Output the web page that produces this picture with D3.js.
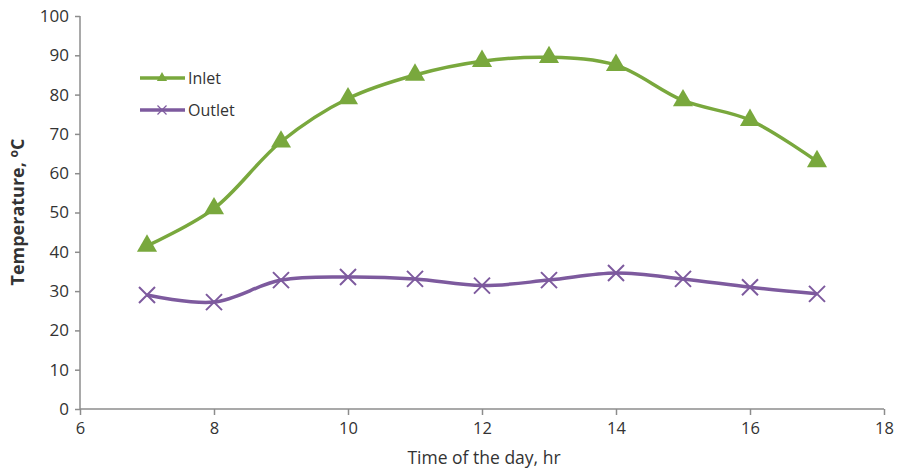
<!DOCTYPE html>
<html>
<head>
<meta charset="utf-8">
<script src="https://cdn.jsdelivr.net/npm/d3@7"></script>
<style>
  body { margin: 0; background: #fff; }
  text { font-family: "Open Sans", "Liberation Sans", sans-serif; fill: #333; }
</style>
</head>
<body>
<script>
const w = 899;
const h = 470;

// data
const hours = [7, 8, 9, 10, 11, 12, 13, 14, 15, 16, 17];
const inlet = [41.5, 51, 68, 79, 85, 88.5, 89.5, 87.5, 78.5, 73.5, 63];
const outlet = [29, 27.2, 32.8, 33.6, 33.1, 31.4, 32.8, 34.6, 33.1, 31, 29.3];
const xTicks = [6, 8, 10, 12, 14, 16, 18];
const yTicks = [0, 10, 20, 30, 40, 50, 60, 70, 80, 90, 100];

const green = "#79a83d";
const purple = "#7d5a9e";
const axisColor = "#8c8c8c";

const svg = d3.select("body").append("svg").attr("width", w).attr("height", h);

const xScale = d3.scaleLinear().domain([6, 18]).range([80, 884]);
const yScale = d3.scaleLinear().domain([0, 100]).range([409, 16]);

// axes
const yAxis = d3.axisLeft(yScale).tickValues(yTicks).tickSize(5).tickPadding(6);
const xAxis = d3.axisBottom(xScale).tickValues(xTicks).tickSize(5).tickPadding(8);

const gy = svg.append("g").attr("transform", "translate(80,0)").call(yAxis);
const gx = svg.append("g").attr("transform", "translate(0,409)").call(xAxis);

[gx, gy].forEach(function (g) {
    g.selectAll("path, line").attr("stroke", axisColor).attr("stroke-width", 1.5);
    g.select(".domain").attr("d", g === gx ? "M80,0H884" : "M0,409V16");
    g.selectAll("text").style("font-size", g === gx ? "16.5px" : "17px").attr("fill", "#333");
});
gx.selectAll(".tick line").attr("y2", 6);

// axis titles
svg.append("text")
    .attr("x", 484)
    .attr("y", 464)
    .attr("text-anchor", "middle")
    .style("font-size", "17.5px")
    .text("Time of the day, hr");

const yTitle = svg.append("text")
    .attr("transform", "translate(24,212) rotate(-90)")
    .attr("text-anchor", "middle")
    .style("font-size", "18px")
    .style("font-weight", "bold");
yTitle.append("tspan").text("Temperature, ");
yTitle.append("tspan").attr("dy", "-6").style("font-size", "12px").text("o");
yTitle.append("tspan").attr("dy", "6").text("C");

// lines
const line = d3.line()
    .x(function (d) { return xScale(d[0]); })
    .y(function (d) { return yScale(d[1]); })
    .curve(d3.curveCatmullRom.alpha(0.5));

const inletData = hours.map(function (d, i) { return [d, inlet[i]]; });
const outletData = hours.map(function (d, i) { return [d, outlet[i]]; });

svg.append("path")
    .datum(inletData)
    .attr("d", line)
    .attr("fill", "none")
    .attr("stroke", green)
    .attr("stroke-width", 3.5);

svg.append("path")
    .datum(outletData)
    .attr("d", line)
    .attr("fill", "none")
    .attr("stroke", purple)
    .attr("stroke-width", 3.5);

// markers
const triangle = d3.symbol().type(d3.symbolTriangle).size(175);

svg.selectAll(".tri")
    .data(inletData)
    .enter()
    .append("path")
    .attr("class", "tri")
    .attr("d", triangle)
    .attr("transform", function (d) {
        return "translate(" + xScale(d[0]) + "," + yScale(d[1]) + ")";
    })
    .attr("fill", green);

function cross(g, s, sw) {
    g.append("path")
        .attr("d", "M" + -s + "," + -s + "L" + s + "," + s + "M" + -s + "," + s + "L" + s + "," + -s)
        .attr("stroke", purple)
        .attr("stroke-width", sw)
        .attr("fill", "none");
}

svg.selectAll(".xm")
    .data(outletData)
    .enter()
    .append("g")
    .attr("class", "xm")
    .attr("transform", function (d) {
        return "translate(" + xScale(d[0]) + "," + yScale(d[1]) + ")";
    })
    .each(function () { cross(d3.select(this), 8, 2); });

// legend
const legend = [["Inlet", green, "tri"], ["Outlet", purple, "x"]];
legend.forEach(function (d, i) {
    const y = 78 + i * 32;
    const g = svg.append("g").attr("transform", "translate(0," + y + ")");
    g.append("line")
        .attr("x1", 140).attr("x2", 185)
        .attr("stroke", d[1]).attr("stroke-width", 3.5);
    if (d[2] === "tri") {
        g.append("path")
            .attr("d", d3.symbol().type(d3.symbolTriangle).size(45))
            .attr("transform", "translate(162,0)")
            .attr("fill", d[1]);
    } else {
        cross(g.append("g").attr("transform", "translate(162,0)"), 4.5, 1.2);
    }
    g.append("text")
        .attr("x", 188)
        .attr("y", 6)
        .style("font-size", "16px")
        .text(d[0]);
});
</script>
</body>
</html>
